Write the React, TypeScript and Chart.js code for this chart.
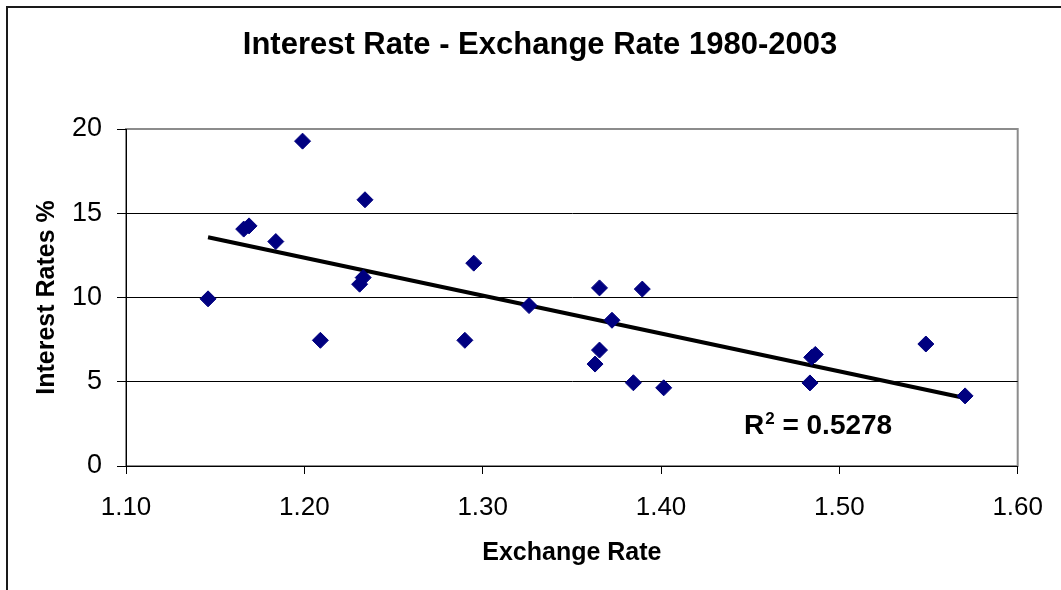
import React, { useEffect, useRef } from "react";
import { Chart, registerables } from "chart.js";

Chart.register(...registerables);

const chartTitle = "Interest Rate - Exchange Rate 1980-2003";
const xTitle = "Exchange Rate";
const yTitle = "Interest Rates %";
const r2Value = "0.5278";

const exchangeRate = [
  1.146, 1.166, 1.169, 1.184, 1.199, 1.209, 1.231, 1.233, 1.234, 1.29, 1.295, 1.326,
  1.363, 1.3655, 1.3655, 1.3725, 1.3845, 1.3895, 1.4015, 1.4835, 1.4845, 1.4865, 1.5485, 1.5705,
];
const interestRate = [
  9.92, 14.06, 14.25, 13.32, 19.28, 7.46, 10.79, 11.18, 15.8, 7.46, 12.04, 9.52,
  6.05, 10.57, 6.88, 8.65, 4.94, 10.5, 4.64, 4.93, 6.45, 6.62, 7.24, 4.16,
];

const trendX = [1.146, 1.571];
const trendY = [13.58, 4.02];

const xTickValues = [1.1, 1.2, 1.3, 1.4, 1.5, 1.6];
const yTickValues = [0, 5, 10, 15, 20];

const FONT = "'Liberation Sans', Arial, Helvetica, sans-serif";

export default function App() {
  const canvasRef = useRef<HTMLCanvasElement | null>(null);

  useEffect(() => {
    const canvas = canvasRef.current;
    if (!canvas) return;

    const framePlugin = {
      id: "frameAndPlot",
      beforeDraw(chart: any) {
        const { ctx, chartArea } = chart;
        ctx.save();
        ctx.fillStyle = "#ffffff";
        ctx.fillRect(0, 0, chart.width, chart.height);
        ctx.strokeStyle = "#8c8c8c";
        ctx.lineWidth = 2;
        ctx.strokeRect(
          chartArea.left,
          chartArea.top,
          chartArea.right - chartArea.left,
          chartArea.bottom - chartArea.top
        );
        ctx.restore();
      },
      afterDraw(chart: any) {
        const { ctx } = chart;
        ctx.save();
        ctx.strokeStyle = "#1a1a1a";
        ctx.lineWidth = 2;
        ctx.beginPath();
        ctx.moveTo(7, chart.height);
        ctx.lineTo(7, 7);
        ctx.lineTo(chart.width, 7);
        ctx.stroke();

        // chart title
        ctx.fillStyle = "#000";
        ctx.textAlign = "center";
        ctx.textBaseline = "alphabetic";
        ctx.font = `bold 31px ${FONT}`;
        ctx.fillText(chartTitle, 540, 54);

        // R² annotation
        const x0 = chart.scales.x.getPixelForValue(1.4465);
        const yBase = chart.scales.y.getPixelForValue(1.9);
        ctx.textAlign = "left";
        ctx.font = `bold 28px ${FONT}`;
        ctx.fillText("R", x0, yBase);
        const rW = ctx.measureText("R").width;
        ctx.font = `bold 17px ${FONT}`;
        ctx.fillText("2", x0 + rW + 1, yBase - 10);
        const sW = ctx.measureText("2").width;
        ctx.font = `bold 28px ${FONT}`;
        ctx.fillText(" = " + r2Value, x0 + rW + 1 + sW, yBase);
        ctx.restore();
      },
    };

    const chart = new Chart(canvas, {
      type: "scatter",
      data: {
        datasets: [
          {
            label: "Trend",
            type: "line",
            data: trendX.map((x, i) => ({ x, y: trendY[i] })),
            borderColor: "#000000",
            borderWidth: 4,
            pointRadius: 0,
            fill: false,
            order: 2,
          },
          {
            label: "Interest vs Exchange",
            data: exchangeRate.map((x, i) => ({ x, y: interestRate[i] })),
            pointStyle: "rectRot",
            pointRadius: 8,
            backgroundColor: "#000080",
            borderColor: "#000080",
            borderWidth: 1,
            order: 1,
          },
        ],
      },
      options: {
        responsive: false,
        animation: false,
        devicePixelRatio: 1,
        layout: { padding: { left: 0, right: 42, top: 129, bottom: 0 } },
        plugins: {
          legend: { display: false },
          tooltip: { enabled: false },
          title: { display: false },
        },
        scales: {
          x: {
            type: "linear",
            min: 1.1,
            max: 1.6,
            afterBuildTicks: (scale: any) => {
              scale.ticks = xTickValues.map((v) => ({ value: v }));
            },
            afterFit: (scale: any) => {
              scale.height = 124;
            },
            ticks: {
              color: "#000",
              font: { family: FONT, size: 26 },
              padding: 18,
              maxRotation: 0,
              callback: (v: any) => Number(v).toFixed(2),
            },
            grid: {
              drawOnChartArea: false,
              drawTicks: true,
              tickLength: 8,
              tickColor: "#000",
              tickWidth: 1,
            },
            border: { display: true, color: "#000", width: 1 },
            title: {
              display: true,
              text: xTitle,
              color: "#000",
              font: { family: FONT, size: 25, weight: "bold" },
              padding: { top: 0, bottom: 22 },
            },
          },
          y: {
            type: "linear",
            min: 0,
            max: 20,
            afterBuildTicks: (scale: any) => {
              scale.ticks = yTickValues.map((v) => ({ value: v }));
            },
            afterFit: (scale: any) => {
              scale.width = 126;
            },
            ticks: {
              color: "#000",
              font: { family: FONT, size: 27 },
              padding: 15,
            },
            grid: {
              color: (ctx: any) =>
                ctx.tick && (ctx.tick.value === 0 || ctx.tick.value === 20)
                  ? "rgba(0,0,0,0)"
                  : "#000",
              lineWidth: 1,
              drawTicks: true,
              tickLength: 9,
              tickColor: "#000",
              tickWidth: 1,
            },
            border: { display: true, color: "#000", width: 1 },
            title: {
              display: true,
              text: yTitle,
              color: "#000",
              font: { family: FONT, size: 25, weight: "bold" },
              padding: { top: 32, bottom: 0 },
            },
          },
        },
      },
      plugins: [framePlugin],
    } as any);

    return () => {
      chart.destroy();
    };
  }, []);

  return (
    <div style={{ position: "absolute", left: 0, top: 0, width: 1061, height: 590 }}>
      <canvas ref={canvasRef} width={1061} height={590} />
    </div>
  );
}
